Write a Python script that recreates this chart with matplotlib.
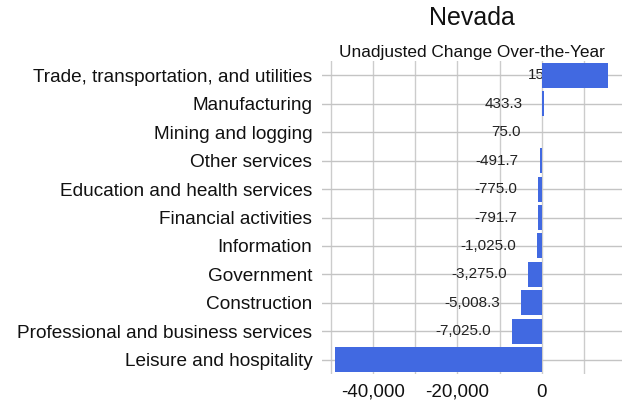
import matplotlib
matplotlib.use("Agg")
import matplotlib.pyplot as plt
from matplotlib.ticker import FuncFormatter, MultipleLocator

categories = [
    "Trade, transportation, and utilities",
    "Manufacturing",
    "Mining and logging",
    "Other services",
    "Education and health services",
    "Financial activities",
    "Information",
    "Government",
    "Construction",
    "Professional and business services",
    "Leisure and hospitality",
]
values = [15800.0, 433.3, 75.0, -491.7, -775.0, -791.7, -1025.0, -3275.0, -5008.3, -7025.0, -49041.7]
title = "Nevada"
subtitle = "Unadjusted Change Over-the-Year"

plt.rcParams['font.family'] = ['Liberation Sans', 'DejaVu Sans']

fig = plt.figure(figsize=(6.26, 4.07), dpi=100)
ax = fig.add_axes([322/626, 1-374/407, 300/626, (374-61)/407])

ypos = list(range(len(categories)))
ax.barh(ypos, values, height=0.88, color="#4169E1", zorder=3)
ax.set_yticks(ypos)
ax.set_yticklabels(categories, fontsize=13.7, color="#111111")
ax.set_ylim(len(categories) - 0.5, -0.5)
ax.set_xlim(-52100, 19050)

ax.xaxis.set_major_locator(MultipleLocator(20000))
ax.xaxis.set_minor_locator(MultipleLocator(10000))
ax.xaxis.set_major_formatter(FuncFormatter(lambda v, p: f"{v:,.0f}" if -50000 < v < 19000 else ""))
ax.tick_params(axis="x", which="both", length=0, labelsize=13.5, pad=7, labelcolor="#111111")
ax.tick_params(axis="y", length=0, pad=7)
ax.grid(True, which="both", axis="x", color="#cccccc", linewidth=1, zorder=0)
ax.grid(True, axis="y", color="#c4c4c4", linewidth=1, zorder=0)
for s in ax.spines.values():
    s.set_visible(False)

xmin = ax.get_xlim()[0]
for y, v in zip(ypos, values):
    # labels that would fall left of the plot area are hidden in the source chart
    if v - 12000 < xmin:
        continue
    ax.annotate(f"{v:,.1f}", xy=(v, y), xytext=(-15, 0), textcoords="offset points",
                ha="right", va="center", fontsize=11, color="#222222",
                zorder=2, annotation_clip=True, clip_on=True)

fig.text(472/626, 1-18/407, title, ha="center", va="center", fontsize=18, color="#111111")
fig.text(472/626, 1-52/407, subtitle, ha="center", va="center", fontsize=12.4, color="#111111")

fig.savefig("out.png", dpi=100)
